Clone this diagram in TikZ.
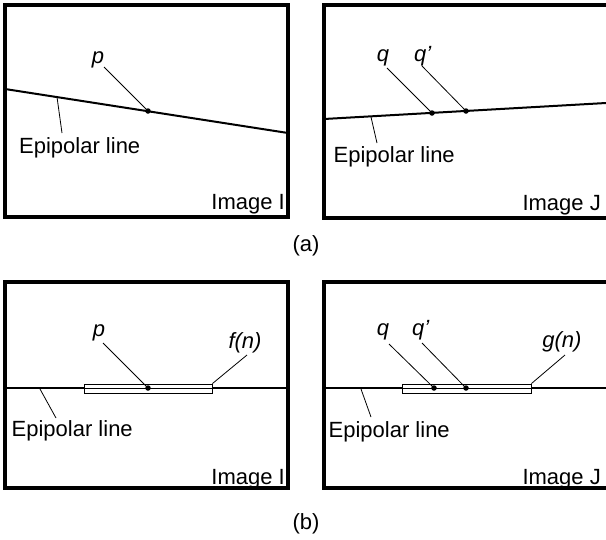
\documentclass[tikz,border=0pt]{standalone}
\usepackage{fontspec}
\setmainfont{Liberation Sans}
\begin{document}
\begin{tikzpicture}[x=1pt,y=-1pt,
  frame/.style={line width=3.3pt},
  epi/.style={line width=2pt},
  epib/.style={line width=1.5pt},
  lead/.style={line width=0.8pt},
  win/.style={draw, line width=0.9pt, fill=white},
  dot/.style={circle, fill, inner sep=0pt, minimum size=5.5pt},
  lab/.style={inner sep=0pt, font=\fontsize{22}{26}\selectfont},
  ilab/.style={inner sep=0pt, font=\fontsize{22}{26}\selectfont\itshape}]
\useasboundingbox (0,0) rectangle (606,539);
\fill[white] (0,0) rectangle (606,539);
\clip (0,0) rectangle (606,539);

% ---------- (a) left ----------
\draw[frame] (5,5) rectangle (288,217);
\coordinate (aLs) at (5,89);
\coordinate (aLe) at (288,133);
\draw[epi] (aLs) -- (aLe);
\node[dot] (ap) at (148,111) {};
\node[ilab, anchor=base] (apl) at (98,63) {p};
\coordinate (apt) at (104,67);
\draw[lead] (apt) -- (ap.center);
\node[lab, anchor=base west] (ael) at (19,153) {Epipolar line};
\coordinate (aes) at (57,97);
\coordinate (aet) at (62,133);
\draw[lead] (aes) -- (aet);
\node[lab, anchor=base east] (aimI) at (285,209) {Image I};

% ---------- (a) right ----------
\draw[frame] (324,5) rectangle (612,218);
\coordinate (aRs) at (324,119);
\coordinate (aRe) at (606,103);
\draw[epi] (aRs) -- (aRe);
\node[dot] (aq) at (432,113) {};
\node[dot] (aqq) at (466,111) {};
\node[ilab, anchor=base] (aql) at (383,61) {q};
\node[ilab, anchor=base west] (aqql) at (414,61) {q’};
\coordinate (aqt) at (387,68);
\coordinate (aqqt) at (422,66);
\draw[lead] (aqt) -- (aq.center);
\draw[lead] (aqqt) -- (aqq.center);
\node[lab, anchor=base west] (aer) at (333.5,162) {Epipolar line};
\coordinate (ares) at (371,117);
\coordinate (aret) at (377,143);
\draw[lead] (ares) -- (aret);
\node[lab, anchor=base east] (aimJ) at (601,210) {Image J};

\node[lab, anchor=base] (capa) at (306,251) {(a)};

% ---------- (b) left ----------
\draw[frame] (5,282) rectangle (288,488);
\coordinate (bLs) at (5,388);
\coordinate (bLe) at (288,388);
\draw[epib] (bLs) -- (bLe);
\node[win, minimum width=128pt, minimum height=9pt, inner sep=0pt] (bwin) at (148,388.5) {};
\draw[line width=1pt] (bwin.west) -- (bwin.east);
\node[dot] (bp) at (148,388) {};
\node[ilab, anchor=base] (bpl) at (99,336) {p};
\coordinate (bpt) at (103,343);
\draw[lead] (bpt) -- (bp.center);
\node[ilab, anchor=base] (bfl) at (245,348) {f(n)};
\coordinate (bft) at (247,355);
\draw[lead] (bft) -- (bwin.north east);
\node[lab, anchor=base west] (bel) at (11.5,436) {Epipolar line};
\coordinate (bes) at (40,389);
\coordinate (bet) at (56,418);
\draw[lead] (bes) -- (bet);
\node[lab, anchor=base east] (bimI) at (285,484) {Image I};

% ---------- (b) right ----------
\draw[frame] (324,282) rectangle (612,488);
\coordinate (bRs) at (324,388);
\coordinate (bRe) at (606,388);
\draw[epib] (bRs) -- (bRe);
\node[win, minimum width=129pt, minimum height=9pt, inner sep=0pt] (bwin2) at (466.5,388.5) {};
\draw[line width=1pt] (bwin2.west) -- (bwin2.east);
\node[dot] (bq) at (434,388) {};
\node[dot] (bqq) at (466,388) {};
\node[ilab, anchor=base] (bql) at (383,335) {q};
\node[ilab, anchor=base west] (bqql) at (412,335) {q’};
\coordinate (bqt) at (389,344);
\coordinate (bqqt) at (422,343);
\draw[lead] (bqt) -- (bq.center);
\draw[lead] (bqqt) -- (bqq.center);
\node[ilab, anchor=base] (bgl) at (562,347) {g(n)};
\coordinate (bgt) at (565,355);
\draw[lead] (bgt) -- (bwin2.north east);
\node[lab, anchor=base west] (ber) at (328.5,437) {Epipolar line};
\coordinate (bres) at (361,389);
\coordinate (bret) at (371,417);
\draw[lead] (bres) -- (bret);
\node[lab, anchor=base east] (bimJ) at (601,484) {Image J};

\node[lab, anchor=base] (capb) at (306,529) {(b)};
\end{tikzpicture}
\end{document}
